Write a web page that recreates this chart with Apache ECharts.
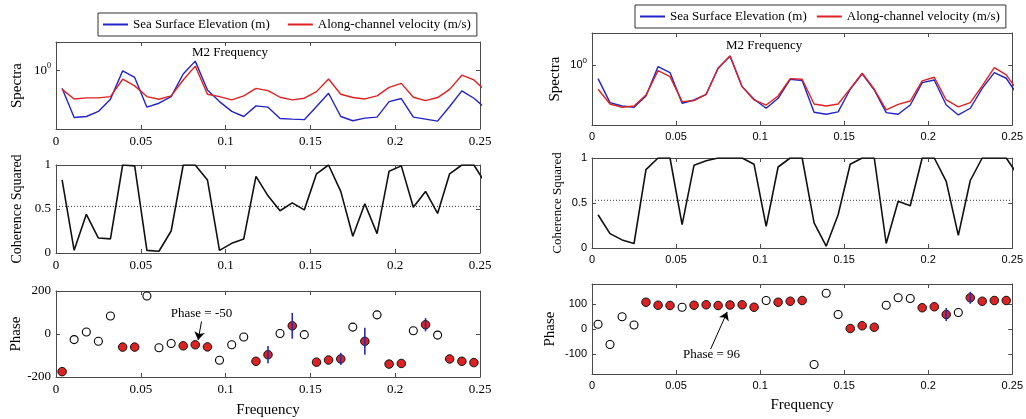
<!DOCTYPE html>
<html>
<head>
<meta charset="utf-8">
<script src="https://cdn.jsdelivr.net/npm/echarts@6/dist/echarts.min.js"></script>
<style>
  html, body { margin: 0; padding: 0; background: #fff; }
  #chart { width: 1026px; height: 419px; }
</style>
</head>
<body>
<div id="chart"></div>
<script>
// Frequency bins (cycles per hour)
const freq = [0.0036, 0.0107, 0.0179, 0.0250, 0.0321, 0.0393, 0.0464, 0.0536, 0.0607, 0.0679,
              0.0750, 0.0821, 0.0893, 0.0964, 0.1036, 0.1107, 0.1179, 0.1250, 0.1321, 0.1393,
              0.1464, 0.1536, 0.1607, 0.1679, 0.1750, 0.1821, 0.1893, 0.1964, 0.2036, 0.2107,
              0.2179, 0.2250, 0.2321, 0.2393, 0.2464, 0.2536];

// Station A (left column)
const elevSpecA = [0.49, 0.157, 0.163, 0.199, 0.32, 0.97, 0.75, 0.235, 0.274, 0.355,
                   0.86, 1.42, 0.46, 0.292, 0.199, 0.163, 0.247, 0.235, 0.151, 0.147,
                   0.144, 0.241, 0.404, 0.163, 0.138, 0.153, 0.159, 0.292, 0.329, 0.159,
                   0.147, 0.136, 0.241, 0.443, 0.333, 0.22];
const velSpecA  = [0.47, 0.324, 0.337, 0.337, 0.355, 0.70, 0.54, 0.355, 0.32, 0.365,
                   0.68, 1.17, 0.389, 0.355, 0.312, 0.365, 0.49, 0.449, 0.346, 0.312,
                   0.333, 0.431, 0.705, 0.389, 0.342, 0.324, 0.365, 0.51, 0.596, 0.346,
                   0.304, 0.342, 0.47, 0.82, 0.68, 0.437];
const cohA = [0.83, 0.03, 0.44, 0.17, 0.16, 1.0, 0.99, 0.03, 0.02, 0.25,
              1.0, 1.0, 0.83, 0.03, 0.11, 0.16, 0.87, 0.65, 0.48, 0.57,
              0.49, 0.90, 1.0, 0.70, 0.19, 0.56, 0.22, 0.93, 0.99, 0.52,
              0.70, 0.45, 0.90, 1.0, 1.0, 0.78];
const phaseA = [-175, -26, 9, -34, 84, -61, -61, 177, -64, -44,
                -55, -50, -60, -122, -50, -14, -127, -96, 2, 38,
                -3, -131, -121, -116, 32, -34, 89, -140, -137, 15,
                43, -5, -116, -127, -133];
const phaseErrA = [0, 0, 0, 0, 0, 0, 0, 0, 0, 0,
                   0, 0, 0, 0, 0, 0, 0, 40, 0, 60,
                   0, 0, 0, 28, 0, 63, 0, 0, 0, 0,
                   31, 0, 0, 0, 0];

// Station B (right column)
const elevSpecB = [0.592, 0.236, 0.207, 0.197, 0.304, 0.94, 0.745, 0.23, 0.261, 0.324,
                   0.88, 1.41, 0.435, 0.268, 0.19, 0.278, 0.577, 0.548, 0.163, 0.151,
                   0.165, 0.393, 0.708, 0.383, 0.161, 0.151, 0.215, 0.508, 0.562, 0.215,
                   0.147, 0.19, 0.408, 0.745, 0.60, 0.30];
const velSpecB  = [0.393, 0.224, 0.197, 0.207, 0.316, 0.805, 0.64, 0.245, 0.255, 0.324,
                   0.88, 1.41, 0.435, 0.261, 0.215, 0.304, 0.592, 0.577, 0.224, 0.207,
                   0.224, 0.403, 0.726, 0.393, 0.178, 0.221, 0.251, 0.541, 0.623, 0.261,
                   0.20, 0.236, 0.447, 0.90, 0.681, 0.36];
const cohB = [0.37, 0.16, 0.09, 0.05, 0.87, 1.0, 1.0, 0.26, 0.92, 0.97,
              1.0, 1.0, 1.0, 0.93, 0.24, 0.90, 1.0, 1.0, 0.28, 0.02,
              0.37, 0.93, 1.0, 1.0, 0.05, 0.52, 0.47, 1.0, 1.0, 0.74,
              0.14, 0.75, 1.0, 1.0, 1.0, 0.80];
const phaseB = [19, -62, 49, 16, 107, 95, 94, 87, 95, 97,
                94, 96, 97, 87, 114, 107, 111, 114, -142, 143,
                58, 2, 13, 7, 95, 125, 122, 85, 89, 58,
                66, 125, 111, 114, 114];
const phaseErrB = [0, 0, 0, 0, 0, 0, 0, 0, 0, 0,
                   0, 0, 0, 0, 0, 0, 0, 0, 0, 0,
                   0, 0, 0, 0, 0, 0, 0, 0, 0, 26,
                   0, 24, 0, 0, 0];

// Significance level for coherence squared
const cohThreshold = 0.53;
// M2 tidal bin index and the phase quoted there
const m2Index = 11;

const freqTicks = [0, 0.05, 0.1, 0.15, 0.2, 0.25];
const freqTickLabels = ['0', '0.05', '0.1', '0.15', '0.2', '0.25'];
const cohTicks = [0, 0.5, 1];
const cohTickLabels = ['0', '0.5', '1'];
const phaseTicksA = [-200, 0, 200];
const phaseTicksB = [-100, 0, 100];

const legendNames = ['Sea Surface Elevation (m)', 'Along-channel velocity (m/s)'];

const SERIF = "'Liberation Serif', 'DejaVu Serif', serif";
const SANS = "'Liberation Sans', Arial, sans-serif";
const BLUE = '#2323c8';
const RED = '#dc2222';
const AXIS = '#4a4a4a';

// panel rectangles [left, top, width, height]
const panels = [
  [56, 42, 424, 87], [56, 165, 424, 88], [56, 291, 424, 87],
  [592, 33, 425, 92], [592, 158, 425, 90], [592, 284, 424, 90]
];

const grid = panels.map(p => ({ left: p[0], top: p[1], width: p[2], height: p[3], containLabel: false }));
const xAxis = [];
const yAxis = [];

function tickLabelStyle(col) {
  return col === 0
    ? { fontFamily: SERIF, fontSize: 13, color: '#000' }
    : { fontFamily: SANS, fontSize: 11, color: '#000' };
}

panels.forEach((p, g) => {
  const col = g < 3 ? 0 : 1;
  const row = g % 3;
  const ls = tickLabelStyle(col);
  const base = {
    gridIndex: g, type: 'value', min: 0, max: 0.25,
    axisLine: { show: true, onZero: false, lineStyle: { color: AXIS, width: 1 } },
    splitLine: { show: false }
  };
  // bottom frequency axis
  xAxis.push(Object.assign({}, base, {
    position: 'bottom',
    axisTick: { show: true, inside: true, length: 4, customValues: freqTicks, lineStyle: { color: AXIS } },
    axisLabel: Object.assign({
      show: true, margin: 6, customValues: freqTicks,
      formatter: v => freqTickLabels[freqTicks.findIndex(t => Math.abs(t - v) < 1e-9)] || ''
    }, ls),
    name: row === 2 ? 'Frequency' : '',
    nameLocation: 'middle',
    nameGap: col === 0 ? 26 : 24,
    nameTextStyle: { fontFamily: SERIF, fontSize: 15, color: '#000' }
  }));
  // top frame axis
  xAxis.push(Object.assign({}, base, {
    position: 'top',
    axisTick: { show: true, inside: true, length: 4, customValues: freqTicks, lineStyle: { color: AXIS } },
    axisLabel: { show: false }
  }));

  let yBase, ticks, labels, name, nameGap, nameSize;
  if (row === 0) {
    yBase = { type: 'log', logBase: 10, min: 0.1, max: col === 0 ? 3.0 : 3.4 };
    ticks = [1];
    labels = null;
    name = 'Spectra';
    nameGap = col === 0 ? 31 : 29;
    nameSize = 15;
  } else if (row === 1) {
    yBase = { type: 'value', min: 0, max: 1 };
    ticks = cohTicks;
    labels = cohTickLabels;
    name = 'Coherence Squared';
    nameGap = col === 0 ? 32 : 28;
    nameSize = col === 0 ? 14 : 13;
  } else {
    yBase = col === 0 ? { type: 'value', min: -200, max: 200 } : { type: 'value', min: -180, max: 180 };
    ticks = col === 0 ? phaseTicksA : phaseTicksB;
    labels = ticks.map(String);
    name = 'Phase';
    nameGap = col === 0 ? 31 : 34;
    nameSize = 15;
  }
  const fmt = row === 0
    ? (v => Math.abs(v - 1) < 1e-9 ? '{b|10}{s|0}' : '')
    : (v => { const i = ticks.findIndex(t => Math.abs(t - v) < 1e-9); return i >= 0 ? labels[i] : ''; });

  yAxis.push(Object.assign({ gridIndex: g, position: 'left' }, yBase, {
    axisLine: { show: true, onZero: false, lineStyle: { color: AXIS, width: 1 } },
    splitLine: { show: false },
    axisTick: { show: true, inside: true, length: 4, customValues: ticks, lineStyle: { color: AXIS } },
    axisLabel: Object.assign({
      show: true, margin: 5, customValues: ticks, formatter: fmt,
      rich: {
        b: { fontFamily: ls.fontFamily, fontSize: ls.fontSize, color: '#000' },
        s: { fontFamily: ls.fontFamily, fontSize: 8, color: '#000', padding: [0, 0, 8, 0] }
      }
    }, ls),
    name: name, nameLocation: 'middle', nameGap: nameGap,
    nameTextStyle: { fontFamily: SERIF, fontSize: nameSize, color: '#000' }
  }));
  yAxis.push(Object.assign({ gridIndex: g, position: 'right' }, yBase, {
    axisLine: { show: true, onZero: false, lineStyle: { color: AXIS, width: 1 } },
    splitLine: { show: false },
    axisTick: { show: true, inside: true, length: 4, customValues: ticks, lineStyle: { color: AXIS } },
    axisLabel: { show: false }
  }));
});

const pair = (xs, ys) => ys.map((y, i) => [xs[i], y]);

function columnSeries(col, elev, vel, coh, phase, err, m2Label, m2Text, phaseNote, arrow) {
  const g0 = col * 3;
  const ax = g => ({ xAxisIndex: 2 * g, yAxisIndex: 2 * g });
  const out = [];

  out.push(Object.assign({
    name: legendNames[0], type: 'line', data: pair(freq, elev),
    symbol: 'none', lineStyle: { color: BLUE, width: 1.4 }, itemStyle: { color: BLUE },
    z: 3, animation: false
  }, ax(g0)));
  out.push(Object.assign({
    name: legendNames[1], type: 'line', data: pair(freq, vel),
    symbol: 'none', lineStyle: { color: RED, width: 1.4 }, itemStyle: { color: RED },
    z: 4, animation: false,
    markPoint: {
      silent: true, symbol: 'circle', symbolSize: 1, itemStyle: { color: 'rgba(0,0,0,0)' },
      label: { show: true, position: 'inside', color: '#000', fontFamily: SERIF, fontSize: 13, formatter: m2Text },
      data: [{ coord: m2Label }]
    }
  }, ax(g0)));

  out.push(Object.assign({
    name: 'coherence', type: 'line', data: pair(freq, coh),
    symbol: 'none', lineStyle: { color: '#111', width: 1.6 }, z: 3, animation: false
  }, ax(g0 + 1)));
  out.push(Object.assign({
    name: 'threshold', type: 'line', data: [[0, cohThreshold], [0.25, cohThreshold]],
    symbol: 'none', lineStyle: { color: '#333', width: 1, type: [1, 2] }, z: 2, animation: false
  }, ax(g0 + 1)));

  const open = [], filled = [], bars = [];
  phase.forEach((v, i) => {
    if (coh[i] >= cohThreshold) filled.push([freq[i], v]); else open.push([freq[i], v]);
    if (err[i] > 0) bars.push([freq[i], v - err[i], v + err[i]]);
  });

  out.push(Object.assign({
    name: 'phase (low coherence)', type: 'scatter', data: open,
    symbol: 'circle', symbolSize: 8,
    itemStyle: { color: '#fff', borderColor: '#000', borderWidth: 1.1, opacity: 1 }, z: 3, animation: false
  }, ax(g0 + 2)));
  out.push(Object.assign({
    name: 'phase', type: 'scatter', data: filled,
    symbol: 'circle', symbolSize: 8.5,
    itemStyle: { color: RED, borderColor: '#111', borderWidth: 1, opacity: 1 }, z: 4, animation: false,
    markLine: {
      silent: true, symbol: ['none', 'arrow'], symbolSize: 8,
      lineStyle: { color: '#000', width: 1, type: 'solid' },
      label: { show: false },
      data: [[{ coord: arrow[0] }, { coord: arrow[1] }]]
    },
    markPoint: {
      silent: true, symbol: 'circle', symbolSize: 1, itemStyle: { color: 'rgba(0,0,0,0)' },
      label: { show: true, position: 'inside', color: '#000', fontFamily: SERIF, fontSize: 13,
               formatter: 'Phase = ' + phase[m2Index] },
      data: [{ coord: phaseNote }]
    }
  }, ax(g0 + 2)));
  out.push(Object.assign({
    name: 'phase error', type: 'custom', data: bars, z: 6, animation: false,
    renderItem: (params, api) => {
      const top = api.coord([api.value(0), api.value(2)]);
      const bot = api.coord([api.value(0), api.value(1)]);
      return {
        type: 'line', shape: { x1: top[0], y1: top[1], x2: bot[0], y2: bot[1] },
        style: { stroke: '#2b2bb0', lineWidth: 1.6 }
      };
    }
  }, ax(g0 + 2)));
  return out;
}

const series = [].concat(
  columnSeries(0, elevSpecA, velSpecA, cohA, phaseA, phaseErrA,
    [0.1026, 2.0], 'M2 Frequency', [0.0858, 97],
    [[0.0858, 58], [0.0838, -28]]),
  columnSeries(1, elevSpecB, velSpecB, cohB, phaseB, phaseErrB,
    [0.1024, 2.07], 'M2 Frequency', [0.0711, -103],
    [[0.0706, -80], [0.0804, 68]])
);

const legendBase = {
  data: legendNames.map(n => ({ name: n, icon: 'rect' })), orient: 'horizontal',
  borderColor: '#333', borderWidth: 1, backgroundColor: '#fff',
  padding: [5, 6, 5, 5], itemWidth: 25, itemHeight: 2,
  selectedMode: false,
  textStyle: { fontFamily: SERIF, fontSize: 13, color: '#000' }
};

const chart = echarts.init(document.getElementById('chart'), null, { renderer: 'canvas' });
chart.setOption({
  backgroundColor: '#fff',
  animation: false,
  grid: grid,
  xAxis: xAxis,
  yAxis: yAxis,
  legend: [
    Object.assign({ left: 98, top: 13, itemGap: 18 }, legendBase),
    Object.assign({ left: 635, top: 5, itemGap: 10 }, legendBase)
  ],
  series: series
});
</script>
</body>
</html>
